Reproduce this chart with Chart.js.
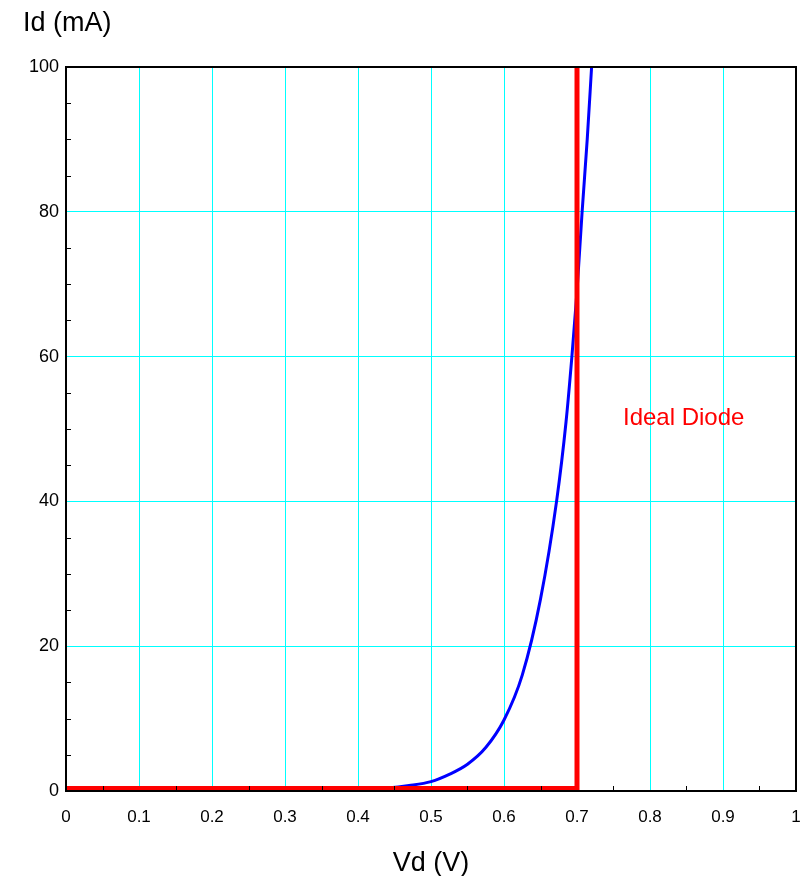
<!DOCTYPE html>
<html>
<head>
<meta charset="utf-8">
<script src="https://cdn.jsdelivr.net/npm/chart.js@4/dist/chart.umd.min.js"></script>
<style>
    body { margin: 0; background: #fff; }
    #wrap { width: 801px; height: 876px; }
</style>
</head>
<body>
<div id="wrap"><canvas id="diode-chart"></canvas></div>
<script>
// Diode curve (Vd in volts, Id in mA)
const diodeV = [0, 0.1, 0.2, 0.3, 0.4, 0.44, 0.47, 0.5, 0.525, 0.55, 0.575, 0.6, 0.625, 0.65, 0.672, 0.685, 0.693, 0.7, 0.707, 0.714, 0.72];
const diodeI = [0, 0, 0, 0, 0.2, 0.4, 0.75, 1.3, 2.3, 3.7, 6.0, 9.8, 16, 26.5, 40, 51, 60, 69, 80, 90, 100];

// Ideal diode: flat until 0.7 V, then straight up
const idealV = [0, 0.7, 0.7];
const idealI = [0.35, 0.35, 100];

const xTitle = 'Vd (V)';
const yTitle = 'Id (mA)';
const idealLabel = 'Ideal Diode';

const toPoints = (xs, ys) => xs.map((x, i) => ({ x: x, y: ys[i] }));
const near = (v, step) => Math.abs(v / step - Math.round(v / step)) < 1e-6;
const FONT = '"Liberation Sans", Arial, Helvetica, sans-serif';

// Box around the plot, inner minor ticks and the free text
const framePlugin = {
    id: 'frame',
    afterDraw(chart) {
        const ctx = chart.ctx;
        const a = chart.chartArea;
        const xs = chart.scales.x;
        const ys = chart.scales.y;
        ctx.save();

        // minor ticks pointing inward
        ctx.strokeStyle = '#000';
        ctx.lineWidth = 1;
        ctx.beginPath();
        for (let v = 0.05; v < 1; v += 0.1) {
            const px = Math.round(xs.getPixelForValue(v)) + 0.5;
            ctx.moveTo(px, a.bottom);
            ctx.lineTo(px, a.bottom - 5);
        }
        for (let v = 5; v < 100; v += 5) {
            if (near(v, 20)) continue;
            const py = Math.round(ys.getPixelForValue(v)) + 0.5;
            ctx.moveTo(a.left, py);
            ctx.lineTo(a.left + 5, py);
        }
        ctx.stroke();

        // frame
        ctx.lineWidth = 2;
        ctx.strokeRect(a.left, a.top, a.right - a.left, a.bottom - a.top);

        // texts
        ctx.fillStyle = '#000';
        ctx.font = '27px ' + FONT;
        ctx.textBaseline = 'alphabetic';
        ctx.textAlign = 'left';
        ctx.fillText(yTitle, 23, 31);
        ctx.textAlign = 'center';
        ctx.fillText(xTitle, (a.left + a.right) / 2, 871);

        ctx.fillStyle = '#ff0000';
        ctx.font = '24px ' + FONT;
        ctx.textAlign = 'left';
        ctx.textBaseline = 'middle';
        ctx.fillText(idealLabel, xs.getPixelForValue(0.763), ys.getPixelForValue(51.5));
        ctx.restore();
    }
};

new Chart(document.getElementById('diode-chart'), {
    type: 'scatter',
    data: {
        datasets: [
            {
                label: 'Ideal',
                data: toPoints(idealV, idealI),
                showLine: true,
                borderColor: '#ff0000',
                borderWidth: 5,
                pointRadius: 0,
                tension: 0,
                order: 0
            },
            {
                label: 'Diode',
                data: toPoints(diodeV, diodeI),
                showLine: true,
                borderColor: '#0000ff',
                borderWidth: 3,
                pointRadius: 0,
                cubicInterpolationMode: 'monotone',
                order: 1
            }
        ]
    },
    options: {
        responsive: true,
        maintainAspectRatio: false,
        animation: false,
        layout: { padding: { left: 0, right: 5, top: 67, bottom: 0 } },
        plugins: {
            legend: { display: false },
            tooltip: { enabled: false }
        },
        scales: {
            x: {
                type: 'linear',
                min: 0,
                max: 1,
                afterFit: s => {
                    s.height = 85;
                    s.paddingLeft = 0;
                    s.paddingRight = 0;
                },
                ticks: {
                    stepSize: 0.05,
                    autoSkip: false,
                    maxRotation: 0,
                    padding: 16,
                    color: '#000',
                    font: { family: FONT, size: 17 },
                    callback: v => near(v, 0.1) ? String(Math.round(v * 10) / 10) : ''
                },
                grid: {
                    drawTicks: false,
                    lineWidth: 1,
                    color: c => (near(c.tick.value, 0.1) && c.tick.value > 0.01 && c.tick.value < 0.99) ? '#00ffff' : 'rgba(0,0,0,0)'
                },
                border: { display: false }
            },
            y: {
                type: 'linear',
                min: 0,
                max: 100,
                afterFit: s => {
                    s.width = 66;
                    s.paddingTop = 0;
                    s.paddingBottom = 0;
                },
                ticks: {
                    stepSize: 5,
                    autoSkip: false,
                    padding: 7,
                    color: '#000',
                    font: { family: FONT, size: 18 },
                    callback: v => near(v, 20) ? String(Math.round(v)) : ''
                },
                grid: {
                    drawTicks: false,
                    lineWidth: 1,
                    color: c => (near(c.tick.value, 20) && c.tick.value > 0 && c.tick.value < 100) ? '#00ffff' : 'rgba(0,0,0,0)'
                },
                border: { display: false }
            }
        }
    },
    plugins: [framePlugin]
});
</script>
</body>
</html>
